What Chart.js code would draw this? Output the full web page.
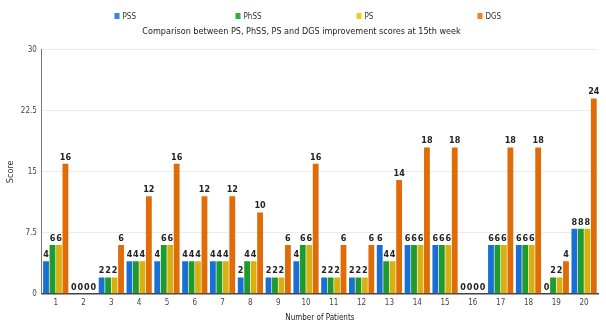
<!DOCTYPE html>
<html>
<head>
<meta charset="utf-8">
<script src="https://cdn.jsdelivr.net/npm/chart.js@4.4.0/dist/chart.umd.min.js"></script>
<style>
  html, body { margin: 0; padding: 0; background: #fff; }
  #wrap { width: 606px; height: 327px; }
</style>
</head>
<body>
<div id="wrap"><canvas id="barChart1" width="606" height="327"></canvas></div>
<script>
'use strict';

// values
const patients = ['1','2','3','4','5','6','7','8','9','10','11','12','13','14','15','16','17','18','19','20'];
const pss  = [4,0,2,4,4,4,4,2,2,4,2,2,6,6,6,0,6,6,0,8];
const phss = [6,0,2,4,6,4,4,4,2,6,2,2,4,6,6,0,6,6,2,8];
const ps   = [6,0,2,4,6,4,4,4,2,6,2,2,4,6,6,0,6,6,2,8];
const dgs  = [16,0,6,12,16,12,12,10,6,16,6,6,14,18,18,0,18,18,4,24];
const yTicks = [0, 7.5, 15, 22.5, 30];

const fontName = "'DejaVu Sans Condensed', 'Liberation Sans Narrow', 'Liberation Sans', sans-serif";
const legendColors = ['#2f86e6', '#2fae3a', '#eccd22', '#f08516'];

// left-to-right shading on each bar, like the original
let shade = function(light, dark){
  return function(ctx){
    const bar = ctx.element;
    if(!bar || bar.x === undefined || !isFinite(bar.x)) return dark;
    const w = bar.width || 6;
    const g = ctx.chart.ctx.createLinearGradient(bar.x - w/2, 0, bar.x + w/2, 0);
    g.addColorStop(0, light);
    g.addColorStop(1, dark);
    return g;
  };
};

// numbers above the bars
const valueLabels = {
  id: 'valueLabels',
  afterDatasetsDraw(chart){
    const c = chart.ctx;
    c.save();
    c.font = 'bold 9px ' + fontName;
    c.fillStyle = '#222';
    c.textAlign = 'center';
    c.textBaseline = 'bottom';
    chart.data.datasets.forEach(function(ds, i){
      chart.getDatasetMeta(i).data.forEach(function(bar, j){
        c.fillText(String(ds.data[j]), bar.x, bar.y - 2);
      });
    });
    c.restore();
  }
};

// widely spaced legend row at the very top
const wideLegend = {
  id: 'wideLegend',
  afterDraw(chart){
    const c = chart.ctx;
    c.save();
    c.font = '8px ' + fontName;
    c.textBaseline = 'middle';
    c.textAlign = 'left';
    chart.data.datasets.forEach(function(ds, i){
      const x = 304 + (i - 1.5) * 121;
      c.fillStyle = legendColors[i];
      c.fillRect(x - 8, 13, 5, 6);
      c.fillStyle = '#333';
      c.fillText(ds.label, x, 16.5);
    });
    c.restore();
  }
};

let newChart = document.getElementById('barChart1').getContext('2d');
new Chart(newChart, {
  type: 'bar',
  data: {
    labels: patients,
    datasets: [
      { label: 'PSS',  data: pss,  backgroundColor: shade('#62b6f6', '#1a6fd6') },
      { label: 'PhSS', data: phss, backgroundColor: shade('#62d258', '#1f9a2c') },
      { label: 'PS',   data: ps,   backgroundColor: shade('#f8e84e', '#d8b010') },
      { label: 'DGS',  data: dgs,  backgroundColor: shade('#f8a52e', '#e06c08') }
    ]
  },
  options: {
    responsive: false,
    animation: false,
    layout: { padding: { left: 5, right: 8, top: 26, bottom: 4 } },
    datasets: { bar: { categoryPercentage: 0.93, barPercentage: 0.9 } },
    plugins: {
      legend: { display: false },
      title: {
        display: true,
        text: 'Comparison between PS, PhSS, PS and DGS improvement scores at 15th week',
        color: '#222',
        font: { family: fontName, size: 9, weight: 'normal' },
        padding: { top: 0, bottom: 13 }
      },
      tooltip: { enabled: false }
    },
    scales: {
      x: {
        grid: { display: false, drawTicks: false },
        border: { color: '#444', width: 1.5 },
        ticks: { color: '#444', padding: 4, font: { family: fontName, size: 8 } },
        title: { display: true, text: 'Number of Patients', color: '#222', padding: { top: 2, bottom: 0 },
                 font: { family: fontName, size: 8 } }
      },
      y: {
        min: 0, max: 30,
        afterBuildTicks: function(axis){ axis.ticks = yTicks.map(function(v){ return { value: v }; }); },
        grid: { color: '#ececec', drawTicks: false },
        border: { color: '#777', width: 1 },
        ticks: { color: '#444', padding: 5, font: { family: fontName, size: 8 } },
        title: { display: true, text: 'Score', color: '#333', padding: { top: 0, bottom: 0 },
                 font: { family: fontName, size: 9 } }
      }
    }
  },
  plugins: [valueLabels, wideLegend]
});
</script>
</body>
</html>
